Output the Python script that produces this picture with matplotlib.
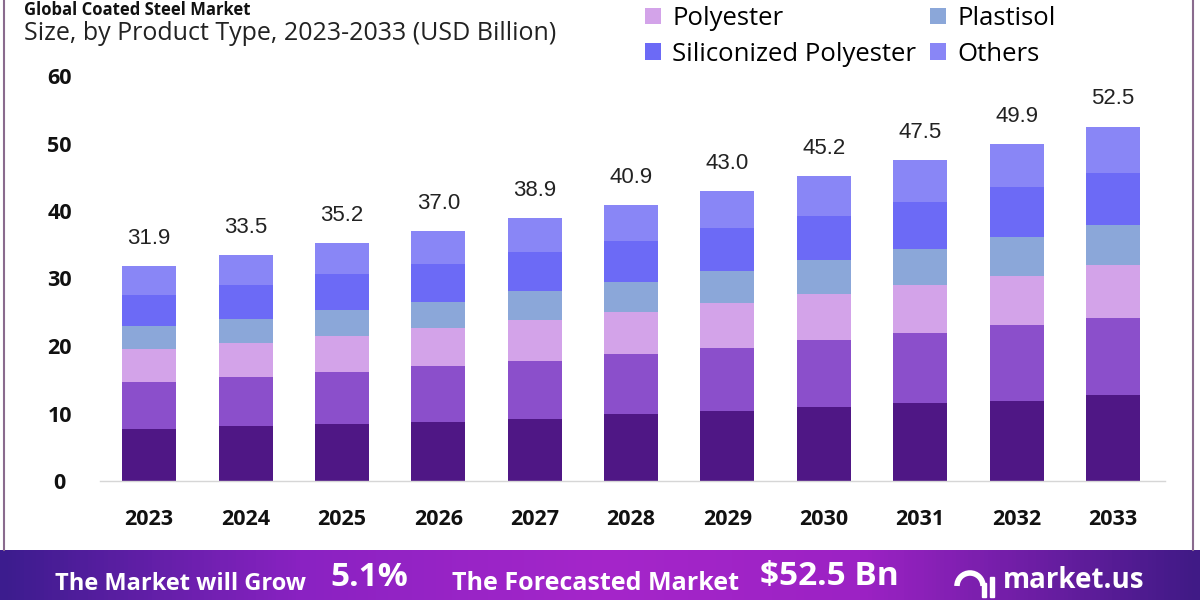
import numpy as np
import matplotlib.pyplot as plt
from matplotlib.patches import Rectangle, Arc
from matplotlib.colors import LinearSegmentedColormap

# data (USD Billion)
years = ['2023', '2024', '2025', '2026', '2027', '2028', '2029', '2030', '2031', '2032', '2033']
totals = [31.9, 33.5, 35.2, 37.0, 38.9, 40.9, 43.0, 45.2, 47.5, 49.9, 52.5]

seg_1 = [7.7, 8.1, 8.4, 8.8, 9.2, 9.9, 10.4, 10.9, 11.5, 11.9, 12.7]
seg_2 = [7.0, 7.3, 7.7, 8.2, 8.6, 8.9, 9.3, 10.0, 10.5, 11.2, 11.5]
polyester = [4.8, 5.0, 5.4, 5.7, 6.0, 6.2, 6.7, 6.8, 7.1, 7.3, 7.8]
plastisol = [3.4, 3.6, 3.9, 3.8, 4.4, 4.5, 4.7, 5.0, 5.2, 5.7, 5.9]
siliconized = [4.7, 5.1, 5.2, 5.7, 5.7, 6.1, 6.4, 6.6, 7.1, 7.5, 7.8]
others = [4.3, 4.4, 4.6, 4.8, 5.0, 5.3, 5.5, 5.9, 6.1, 6.3, 6.8]

series = [seg_1, seg_2, polyester, plastisol, siliconized, others]
names = ['', '', 'Polyester', 'Plastisol', 'Siliconized Polyester', 'Others']
colors = ['#4f1785', '#8b4fcb', '#d3a3e9', '#8ba7d9', '#6c6af6', '#8986f6']

font = 'Open Sans'

fig = plt.figure(figsize=(12, 6), dpi=100)
fig.patch.set_facecolor('white')

ax = fig.add_axes([100/1200, 1-481/600, 1065/1200, 405/600])
x = np.arange(len(years))
bottom = np.zeros(len(years))
bars = []
for vals, c in zip(series, colors):
	b = ax.bar(x, vals, 0.56, bottom=bottom, color=c, linewidth=0)
	bars.append(b)
	bottom = bottom + np.array(vals)

for i, t in enumerate(totals):
	ax.text(i, t + 4.1, '%.1f' % t, ha='center', va='center', fontsize=16,
			family='Liberation Sans', color='#222222')

ax.set_xlim(-0.51, 10.54)
ax.set_ylim(0, 60)
ax.set_yticks(range(0, 61, 10))
ax.set_yticklabels([str(v) for v in range(0, 61, 10)], fontsize=15.5, fontweight='bold',
				   family=font, color='#111111')
for lbl in ax.get_yticklabels():
	lbl.set_ha('center')
ax.set_xticks(x)
ax.set_xticklabels(years, fontsize=15.5, fontweight='bold', family=font, color='#111111')
ax.tick_params(axis='y', length=0, pad=29)
ax.tick_params(axis='x', length=0, pad=20)
for s in ['left', 'right', 'top']:
	ax.spines[s].set_visible(False)
ax.spines['bottom'].set_color('#d6d6d6')
ax.spines['bottom'].set_linewidth(1)

# title and subtitle
fig.text(24/1200, 1-1/600, 'Global Coated Steel Market', fontsize=12, fontweight='bold',
		 family=font, color='#111111', va='top')
fig.text(24/1200, 1-34/600, 'Size, by Product Type, 2023-2033 (USD Billion)', fontsize=18,
		 family=font, color='#222222', va='center')

# legend (only the visible rows)
handles = [bars[2], bars[4], bars[3], bars[5]]
labels = [names[2], names[4], names[3], names[5]]
fig.legend(handles, labels, ncol=2, loc='upper left', bbox_to_anchor=(635/1200, 1+4/600),
		   frameon=False, prop={'family': font, 'size': 18.5},
		   handlelength=0.6, handleheight=0.6, handletextpad=0.45,
		   columnspacing=0.55, labelspacing=0.4, borderaxespad=0)

# side borders
fig.add_artist(plt.Line2D([4/1200, 4/1200], [50/600, 1], color='#8a6b8e', lw=1.5))
fig.add_artist(plt.Line2D([1193/1200, 1193/1200], [50/600, 1], color='#8a6b8e', lw=1.5))

# bottom banner
bax = fig.add_axes([0, 0, 1, 50/600])
cmap = LinearSegmentedColormap.from_list('band', [(0, '#3c1c8e'), (0.25, '#8a22c2'),
	(0.5, '#a526ca'), (0.72, '#9c22c4'), (1, '#401a86')])
bax.imshow(np.linspace(0, 1, 300).reshape(1, -1), aspect='auto', cmap=cmap,
		   extent=[0, 1, 0, 1])
bax.set_xlim(0, 1)
bax.set_ylim(0, 1)
bax.axis('off')

fig.text(55/1200, 1-584/600, 'The Market will Grow', fontsize=17, fontweight='bold',
		 family=font, color='white', va='center')
fig.text(330/1200, 1-577/600, '5.1%', fontsize=24, fontweight='bold',
		 family=font, color='white', va='center')
fig.text(452/1200, 1-584/600, 'The Forecasted Market', fontsize=18, fontweight='bold',
		 family=font, color='white', va='center')
fig.text(760/1200, 1-577/600, '$52.5 Bn', fontsize=24, fontweight='bold',
		 family=font, color='white', va='center')
fig.text(1003/1200, 1-580/600, 'market.us', fontsize=20, fontweight='bold',
		 family=font, color='white', va='center')
fig.add_artist(Arc((970/1200, 1-586/600), 26/1200, 26/600, theta1=0, theta2=180,
				   color='white', lw=4, transform=fig.transFigure))
fig.add_artist(Rectangle((982/1200, 3/600), 4/1200, 14/600, color='white',
						 transform=fig.transFigure))
fig.add_artist(Rectangle((990/1200, 3/600), 4/1200, 20/600, color='white',
						 transform=fig.transFigure))

fig.savefig('out.png', dpi=100)
